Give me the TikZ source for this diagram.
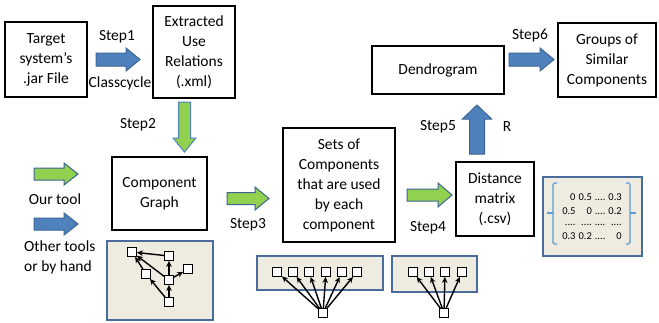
\documentclass[tikz,border=0pt]{standalone}
\usepackage{fontspec}
\setmainfont{Carlito}
\usetikzlibrary{arrows.meta}

\definecolor{arrowblue}{HTML}{4F81BD}
\definecolor{arrowline}{HTML}{3A6496}
\definecolor{arrowgreen}{HTML}{92D050}
\definecolor{panelfill}{HTML}{EEECE1}
\definecolor{panelline}{HTML}{4A6C9B}
\definecolor{bracketblue}{HTML}{5B9BD5}

% block arrow: [style]{tail}{angle}{length}{half shaft}{half head}
\newcommand{\blockarrow}[6][]{%
  \draw[line width=1pt, #1, shift={#2}, rotate=#3]
    (0,-#5) -- ({#4-14},-#5) -- ({#4-14},-#6) -- (#4,0)
    -- ({#4-14},#6) -- ({#4-14},#5) -- (0,#5) -- cycle;}

\tikzset{
  box/.style={draw, line width=1.5pt, align=center, inner sep=0pt,
    font=\fontsize{15.5}{20}\selectfont},
  lbl/.style={font=\fontsize{15.5}{20}\selectfont, inner sep=0pt},
  panel/.style={draw=panelline, fill=panelfill, line width=1.3pt},
  comp/.style={draw, fill=white, line width=1.3pt, minimum size=8.5pt, inner sep=0pt},
  use/.style={-{Stealth[length=6pt,width=5.5pt]}, line width=1.4pt},
  bluearrow/.style={draw=arrowline, fill=arrowblue},
  greenarrow/.style={draw=arrowline, fill=arrowgreen}
}

\begin{document}
\begin{tikzpicture}[x=1pt, y=-1pt]
    \useasboundingbox (0,0) rectangle (659,322);

    % main boxes
    \node[box, minimum width=82pt, minimum height=75pt] (target) at (46,59.5) {Target\\system’s\\.jar File};
    \node[box, minimum width=82pt, minimum height=92pt] (extracted) at (194,52) {Extracted\\Use\\Relations\\(.xml)};
    \node[box, minimum width=95pt, minimum height=73pt] (compgraph) at (159.5,193.5) {Component\\Graph};
    \node[box, minimum width=112pt, minimum height=114pt] (sets) at (339,185) {Sets of\\Components\\that are used\\by each\\component};
    \node[box, minimum width=78pt, minimum height=74pt] (distance) at (495,199) {Distance\\matrix\\(.csv)};
    \node[box, minimum width=132pt, minimum height=48pt] (dendro) at (438,70) {Dendrogram};
    \node[box, minimum width=98pt, minimum height=74pt] (groups) at (607,60) {Groups of\\Similar\\Components};

    % block arrows
    \blockarrow[bluearrow]{(96,59.5)}{0}{44}{6.5}{11.5}
    \blockarrow[greenarrow, draw=arrowblue]{(184.5,102)}{-90}{50}{6}{11.5}
    \blockarrow[greenarrow]{(34,174)}{0}{44}{6}{11}
    \blockarrow[bluearrow]{(34,224)}{0}{44}{6}{11}
    \blockarrow[greenarrow]{(227,198.5)}{0}{42}{6}{11.5}
    \blockarrow[greenarrow]{(407,195)}{0}{45}{6}{12}
    \blockarrow[bluearrow]{(477,154)}{90}{49}{7.5}{14.5}
    \blockarrow[bluearrow]{(509,59.5)}{0}{45}{6.5}{11.5}

    % step labels
    \node[lbl] (step1) at (117,37) {Step1};
    \node[lbl] (classcycle) at (120,83) {Classcycle};
    \node[lbl] (step2) at (138,125) {Step2};
    \node[lbl] (step3) at (248,225) {Step3};
    \node[lbl] (step4) at (428,228) {Step4};
    \node[lbl] (step5) at (438,127) {Step5};
    \node[lbl] (rtool) at (507,127) {R};
    \node[lbl] (step6) at (530,36) {Step6};
    \node[lbl] (ourtool) at (55,199) {Our tool};
    \node[lbl, align=left, anchor=west] (othertools) at (24,257) {Other tools\\or by hand};

    % component graph sample
    \node[panel, minimum width=106pt, minimum height=79pt] (graphpanel) at (160,280.5) {};
    \node[comp] (ga) at (132,252) {};
    \node[comp] (gb) at (169,256) {};
    \node[comp] (gc) at (188,269) {};
    \node[comp] (gd) at (146,274) {};
    \node[comp] (ge) at (169,280) {};
    \node[comp] (gf) at (169,302) {};
    \draw[use] (gb) -- (ga);
    \draw[use] (ge) -- (ga);
    \draw[use] (gd) -- (ga);
    \draw[use] (ge) -- (gb);
    \draw[use] (ge) -- (gc);
    \draw[use] (gf) -- (ge);
    \draw[use] (gf) -- (gd);

    % sets sample
    \node[panel, minimum width=126pt, minimum height=34pt] (setspanel) at (320,273) {};
    \node[comp] (su) at (323,313) {};
    \foreach \i/\x in {1/277,2/293,3/309,4/326,5/342,6/357} {
        \node[comp] (s\i) at (\x,272) {};
        \draw[use] (su) -- (s\i);
    }

    \node[panel, minimum width=85pt, minimum height=36pt] (distpanel) at (434.5,274) {};
    \node[comp] (du) at (444,313) {};
    \foreach \i/\x in {1/413,2/429,3/445,4/462} {
        \node[comp] (d\i) at (\x,272) {};
        \draw[use] (du) -- (d\i);
    }

    % distance matrix sample
    \node[panel, minimum width=99pt, minimum height=79pt] (matpanel) at (592.5,216.5) {};
    \node[font=\fontsize{10.5}{14}\selectfont, inner sep=0pt] (matvals) at (592,217) {%
        \setlength{\tabcolsep}{1.5pt}%
        \begin{tabular}{rrrr}
        0 & 0.5 & .... & 0.3\\
        0.5 & 0 & .... & 0.2\\[-3pt]
        .... & .... & .... & ....\\
        0.3 & 0.2 & .... & 0
        \end{tabular}};
    \draw[bracketblue, line width=1.3pt, rounded corners=1.5pt]
        (557,183) -- (553,183) -- (553,244) -- (557,244);
    \draw[bracketblue, line width=1.3pt] (547,213) -- (553,213);
    \draw[bracketblue, line width=1.3pt, rounded corners=1.5pt]
        (626,183) -- (630,183) -- (630,244) -- (626,244);
    \draw[bracketblue, line width=1.3pt] (630,213) -- (636,213);
\end{tikzpicture}
\end{document}
